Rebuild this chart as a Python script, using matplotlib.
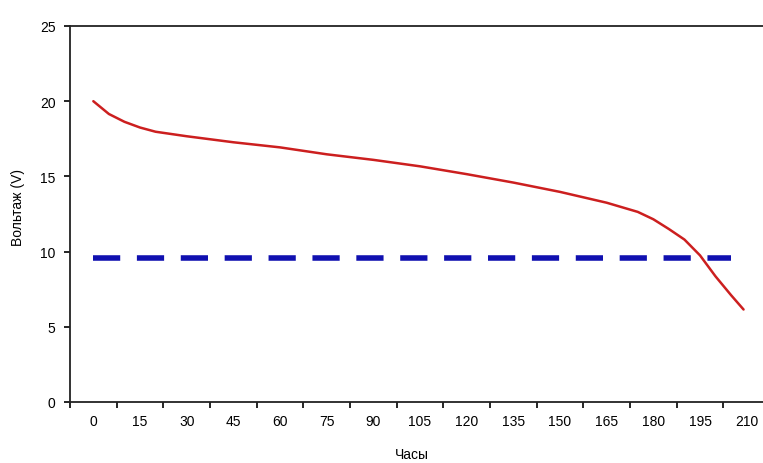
import matplotlib.pyplot as plt
import numpy as np

# readings from the discharge curve
hours = [0, 5, 10, 15, 20, 30, 45, 60, 75, 90, 105, 120, 135, 150,
         165, 175, 180, 185, 190, 195, 200, 205, 209]
volts = [20.0, 19.15, 18.63, 18.25, 17.97, 17.67, 17.27, 16.93, 16.47,
         16.1, 15.67, 15.15, 14.59, 13.97, 13.25, 12.64, 12.15, 11.5, 10.8,
         9.75, 8.35, 7.1, 6.15]
cutoff_hours = [0, 205]
cutoff_volts = [9.6, 9.6]
x_labels = list(range(0, 211, 15))
y_ticks = [0, 5, 10, 15, 20, 25]

plt.rcParams['font.family'] = ['Liberation Sans', 'DejaVu Sans']

fig = plt.figure(figsize=(7.63, 4.64), dpi=100)
ax = fig.add_axes([70 / 763, 61 / 464, 700 / 763, 376 / 464])

ax.plot(hours, volts, color='#cc1f1f', linewidth=1.8, solid_capstyle='round',
        solid_joinstyle='round')
ax.plot(cutoff_hours, cutoff_volts, color='#1010b0', linewidth=4,
        dashes=(4.9, 3.0), dash_capstyle='butt')

ax.set_xlim(-7.5, 217.5)
ax.set_ylim(0, 25)

# category-style axis: tick marks between labels
ax.set_xticks([v - 7.5 for v in x_labels] + [217.5])
ax.set_xticklabels([])
ax.set_xticks(x_labels, minor=True)
ax.set_xticklabels([str(v) for v in x_labels], minor=True, fontsize=10)
ax.tick_params(axis='x', which='major', direction='out', length=4, width=1.2)
ax.tick_params(axis='x', which='minor', length=0, pad=9)

ax.set_yticks(y_ticks)
ax.set_yticklabels([str(v) for v in y_ticks], fontsize=10)
ax.tick_params(axis='y', direction='out', length=4.5, width=1.2, pad=6)

ax.spines['right'].set_visible(False)
for s in ['left', 'bottom', 'top']:
    ax.spines[s].set_linewidth(1.3)
    ax.spines[s].set_color('#222222')

fig.text(18 / 763, 1 - 208 / 464, 'Вольтаж (V)', rotation=90,
         ha='center', va='center', fontsize=10)
fig.text(412 / 763, 1 - 455 / 464, 'Часы', ha='center', va='center', fontsize=10)

fig.savefig('out.png', dpi=100, facecolor='white')
